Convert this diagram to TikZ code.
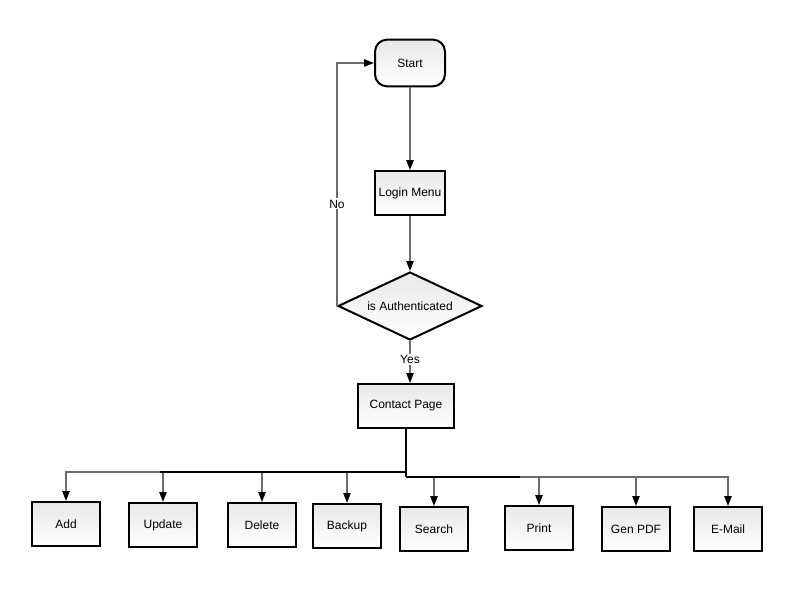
\documentclass[tikz,border=0pt]{standalone}
\usepackage{fontspec}
\setmainfont{Liberation Sans}
\usetikzlibrary{shapes.geometric,arrows.meta}
\begin{document}
\begin{tikzpicture}[x=0.75pt,y=-0.75pt,
  every node/.style={font=\fontsize{9}{11}\selectfont},
  box/.style={draw=black,line width=1.5pt,top color=black!9,bottom color=white,
    minimum width=51pt,minimum height=33pt,inner sep=0pt},
  roundbox/.style={box,rounded corners=9pt,minimum width=52.5pt,minimum height=35pt},
  decision/.style={draw=black,line width=1.5pt,top color=black!9,bottom color=white,
    shape=diamond,aspect=2.1,minimum width=108pt,minimum height=51pt,inner sep=0pt},
  conn/.style={draw=black!58,line width=1.1pt,-{Triangle[length=7.5pt,width=5.5pt,color=black]}},
  trunk/.style={draw=black,line width=1.5pt},
  lbl/.style={fill=white,inner sep=1pt}]
\useasboundingbox (0,0) rectangle (800,600);

\node[roundbox] (start) at (410,63) {Start};
\node[box,minimum width=52.5pt] (login) at (410,193) {Login Menu};
\node[decision] (auth) at (410,306) {is Authenticated};
\node[box,minimum width=72pt] (contact) at (406,406) {Contact Page};

\node[box] (add) at (66,524) {Add};
\node[box] (update) at (163,525) {Update};
\node[box] (delete) at (262,525) {Delete};
\node[box] (backup) at (347,526) {Backup};
\node[box] (search) at (434,529) {Search};
\node[box] (print) at (539,528) {Print};
\node[box] (genpdf) at (636,529) {Gen PDF};
\node[box] (email) at (728,529) {E-Mail};

\coordinate (jl) at (406,472);
\coordinate (jr) at (406,477);

\draw[conn] (start) -- (login);
\draw[conn] (login) -- (auth);
\draw[conn] (auth.west) |- (start.west) node[lbl,pos=0.21] {No};
\draw[conn] (auth.south) -- (auth.south |- contact.north) node[lbl,pos=0.45] {Yes};

\foreach \b in {add,update,delete,backup} {
  \draw[conn] (jl) -| (\b.north);
}
\foreach \b in {search,print,genpdf,email} {
  \draw[conn] (jr) -| (\b.north);
}
\draw[trunk] (contact.south) -- (jr);
\draw[black,line width=1.1pt] (jl) -- (160,472);
\draw[black,line width=1.1pt] (jr) -- (520,477);
\end{tikzpicture}
\end{document}
